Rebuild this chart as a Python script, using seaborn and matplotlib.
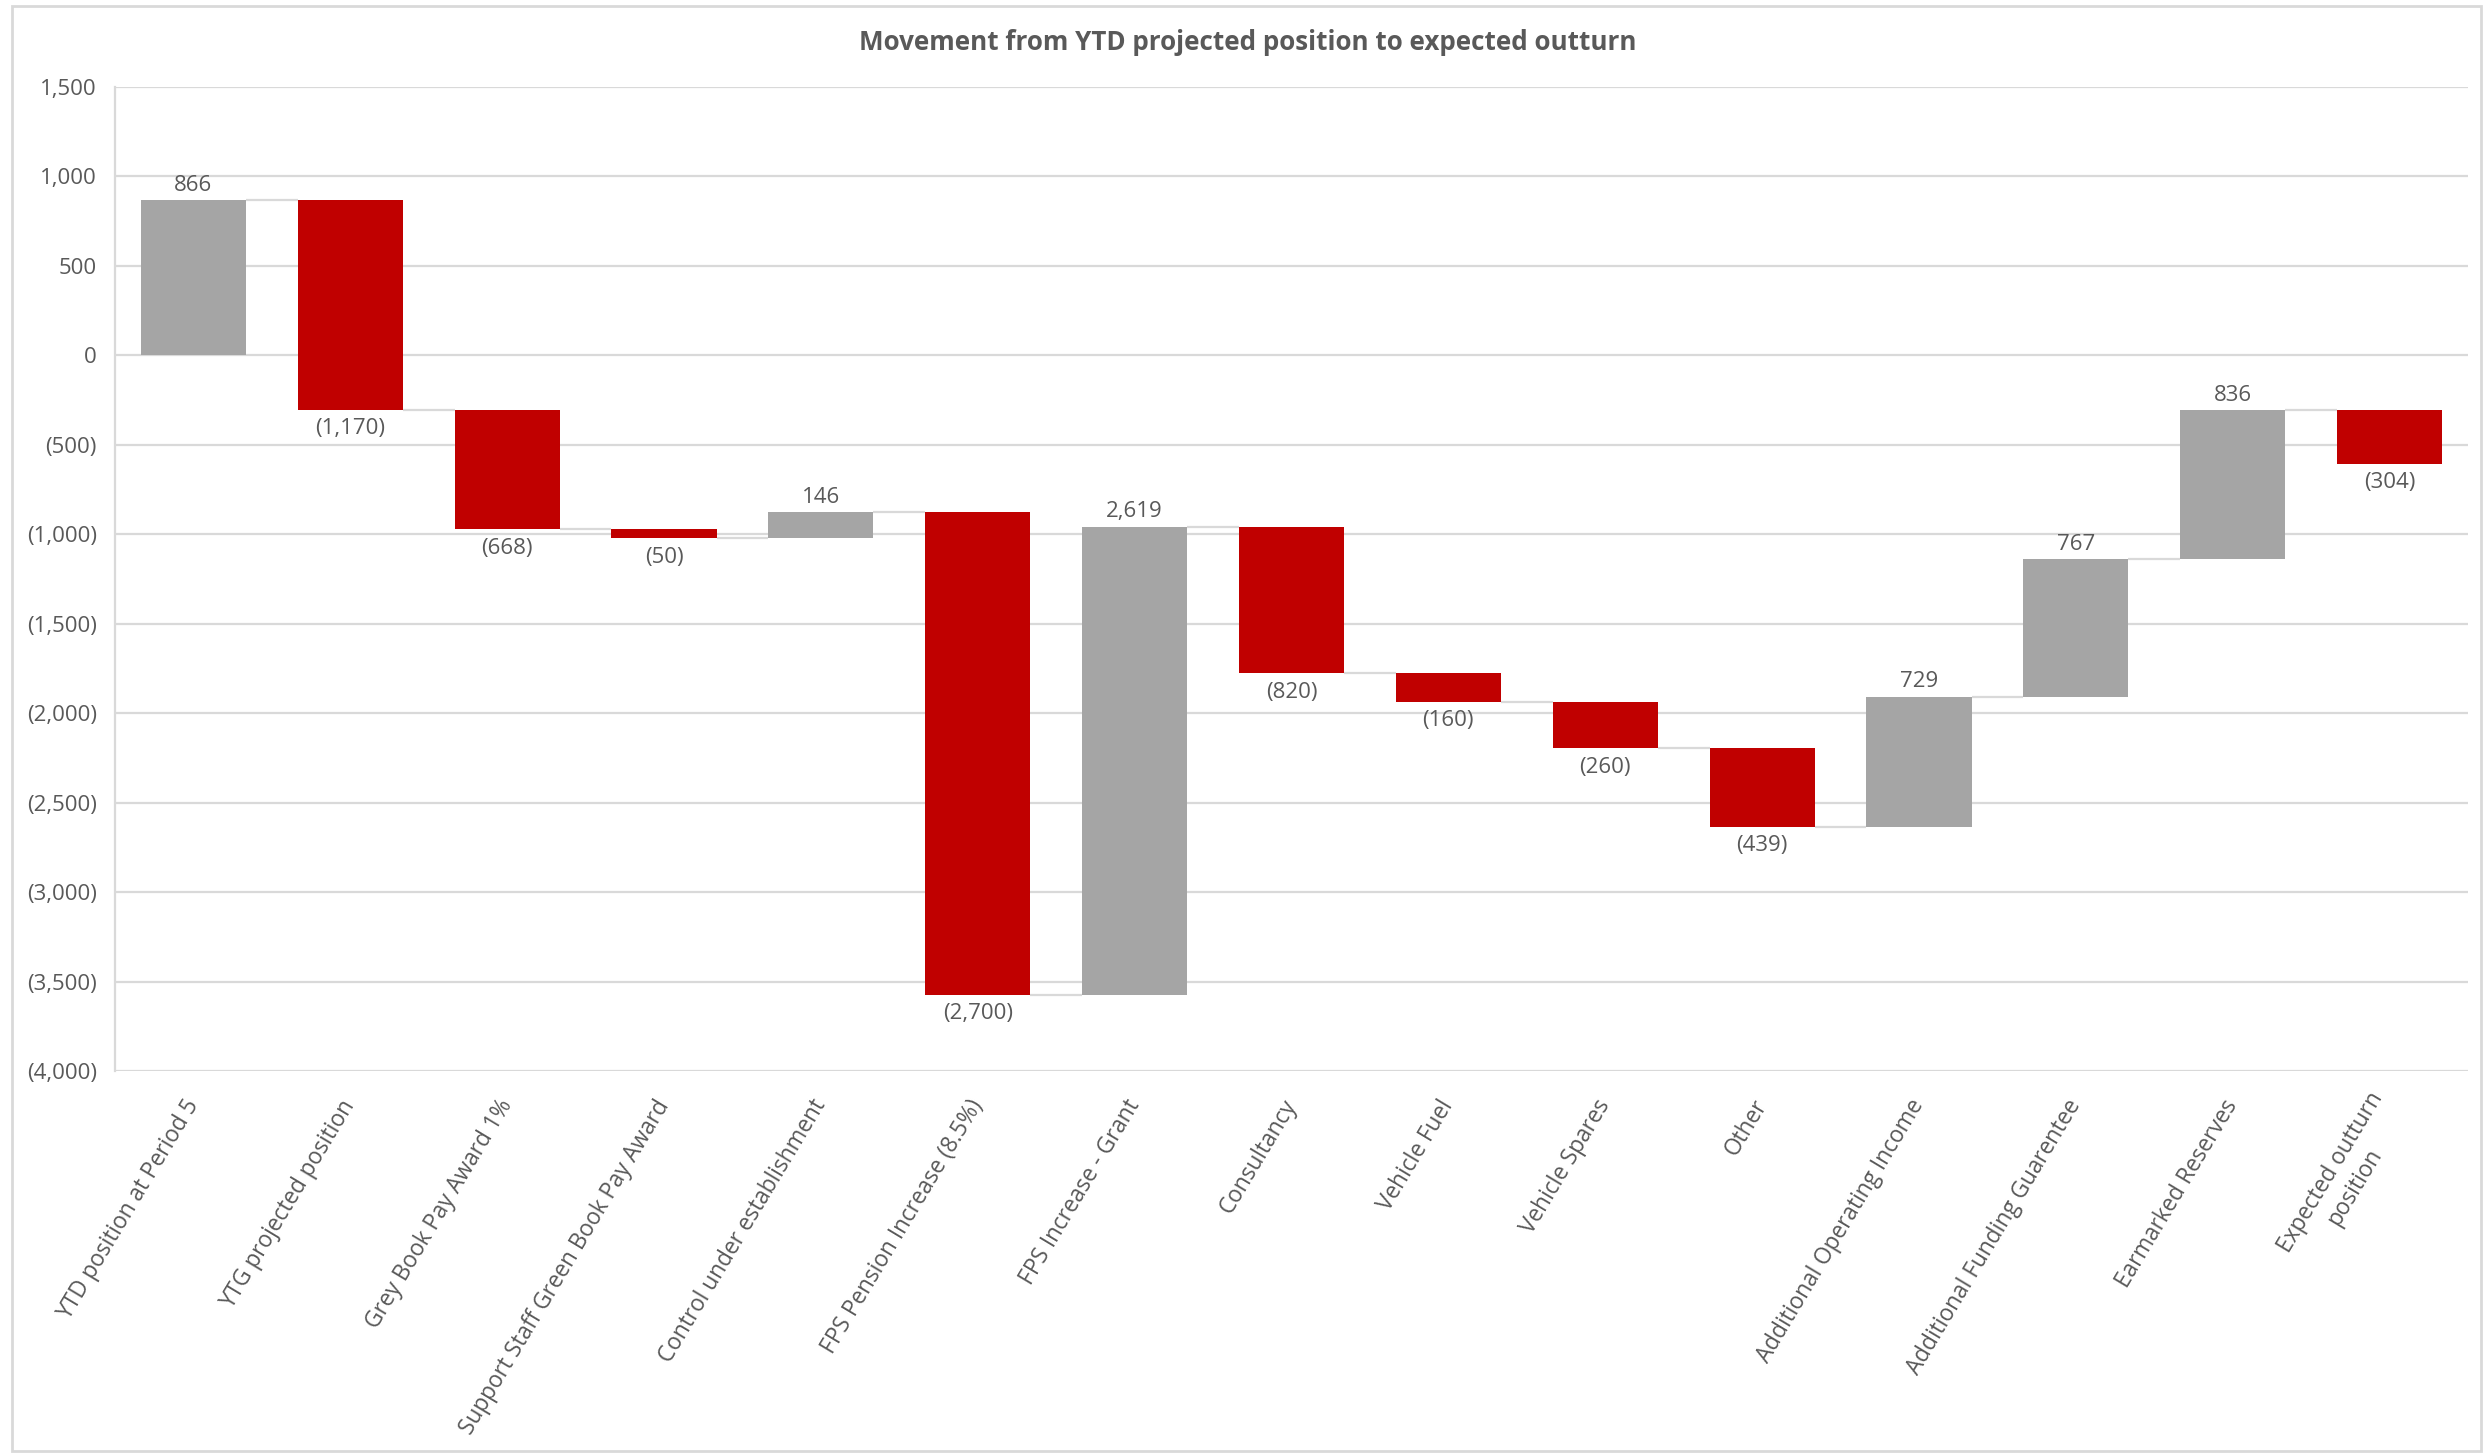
import numpy as np
import pandas as pd
import matplotlib
matplotlib.use("Agg")
import matplotlib.pyplot as plt
from matplotlib.patches import Rectangle
from matplotlib import font_manager
import seaborn as sns

# ---- data ----
categories = [
    "YTD position at Period 5",
    "YTG projected position",
    "Grey Book Pay Award 1%",
    "Support Staff Green Book Pay Award",
    "Control under establishment",
    "FPS Pension Increase (8.5%)",
    "FPS Increase - Grant",
    "Consultancy",
    "Vehicle Fuel",
    "Vehicle Spares",
    "Other",
    "Additional Operating Income",
    "Additional Funding Guarentee",
    "Earmarked Reserves",
    "Expected outturn\nposition",
]
movements = [866, -1170, -668, -50, 146, -2700, 2619, -820, -160, -260, -439, 729, 767, 836, -304]
y_ticks = [1500, 1000, 500, 0, -500, -1000, -1500, -2000, -2500, -3000, -3500, -4000]
title = "Movement from YTD projected position to expected outturn"

GREY = "#A5A5A5"
RED = "#C00000"
TEXT = "#595959"
GRID = "#D9D9D9"

# ---- waterfall geometry from the data ----
starts = []
ends = []
running = 0.0
for v in movements:
    starts.append(running)
    running = running + v
    ends.append(running)
# The final bar in the reference hangs from the last running total
starts[-1] = ends[-2]
ends[-1] = ends[-2] + movements[-1]

df = pd.DataFrame({
    "category": categories,
    "move": movements,
    "start": starts,
    "end": ends,
})
df["bottom"] = df[["start", "end"]].min(axis=1)
df["size"] = (df["start"] - df["end"]).abs()
df["kind"] = np.where(df["move"] >= 0, "up", "down")

# ---- style ----
sns.set_theme(style="white")
avail = {f.name for f in font_manager.fontManager.ttflist}
base_font = [f for f in ["Open Sans", "Noto Sans", "DejaVu Sans"] if f in avail]
title_font = [f for f in ["Liberation Sans Narrow", "Open Sans", "DejaVu Sans"] if f in avail]
plt.rcParams["font.family"] = base_font

W, H, DPI = 2483, 1454, 100
fig = plt.figure(figsize=(W / DPI, H / DPI), dpi=DPI)
fig.patch.set_facecolor("white")

# outer chart frame
fig.add_artist(Rectangle((12 / W, 3 / H), (W - 14) / W, (H - 9) / H,
                         transform=fig.transFigure, fill=False,
                         edgecolor=GRID, linewidth=2))

ax = fig.add_axes([115 / W, 1 - 1071 / H, (2468 - 115) / W, (1071 - 87) / H])

bar_w = 0.67
sns.barplot(data=df, x="category", y="size", hue="kind",
            palette={"up": GREY, "down": RED}, dodge=False,
            width=bar_w, order=categories, legend=False, ax=ax,
            saturation=1)

# lift each bar to its floating position
for p in ax.patches:
    idx = int(round(p.get_x() + p.get_width() / 2))
    if 0 <= idx < len(df):
        p.set_y(df["bottom"].iloc[idx])
        p.set_linewidth(0)

# connector lines
for i in range(len(df) - 1):
    level = df["end"].iloc[i]
    ax.plot([i + bar_w / 2, i + 1 - bar_w / 2], [level, level],
            color=GRID, linewidth=1.6, zorder=1, solid_capstyle="butt")

# data labels
def fmt(v):
    return f"{v:,.0f}" if v >= 0 else f"({abs(v):,.0f})"

for i, r in df.iterrows():
    if r["move"] >= 0:
        ax.annotate(fmt(r["move"]), (i, max(r["start"], r["end"])),
                    xytext=(0, 3), textcoords="offset points",
                    ha="center", va="bottom", fontsize=16, color=TEXT)
    else:
        ax.annotate(fmt(r["move"]), (i, min(r["start"], r["end"])),
                    xytext=(0, -6), textcoords="offset points",
                    ha="center", va="top", fontsize=16, color=TEXT)

# axes formatting
ax.set_ylim(-4000, 1500)
ax.set_xlim(-0.5, len(df) - 0.5)
ax.set_yticks(y_ticks)
ax.set_yticklabels([fmt(t) for t in y_ticks], fontsize=16, color=TEXT)
ax.yaxis.grid(True, color=GRID, linewidth=1.6)
ax.set_axisbelow(True)
ax.tick_params(axis="y", length=0, pad=13)
ax.tick_params(axis="x", length=0, pad=22)
ax.set_xticks(range(len(df)))
ax.set_xticklabels(categories, rotation=59, ha="right", va="center",
                   rotation_mode="anchor", fontsize=16.3, color=TEXT,
                   multialignment="center")
ax.set_xlabel("")
ax.set_ylabel("")
for s in ["top", "right", "bottom"]:
    ax.spines[s].set_visible(False)
ax.spines["left"].set_color(GRID)
ax.spines["left"].set_linewidth(1.6)

fig.text(1248 / W, 1 - 42 / H, title, ha="center", va="center",
         fontsize=18.7, fontweight="bold", color=TEXT, family=title_font)

fig.savefig("out.png", dpi=DPI, facecolor="white")
